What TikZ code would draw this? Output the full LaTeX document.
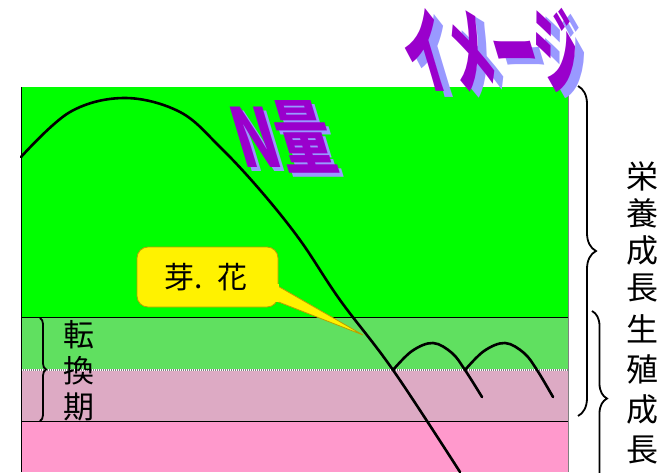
\documentclass[tikz,border=0pt]{standalone}
\usepackage{fontspec}
\newfontfamily\jp{Noto Sans CJK JP}
\usetikzlibrary{decorations.pathreplacing}
\definecolor{vgreen}{HTML}{00FF00}
\definecolor{lgreen}{HTML}{60E060}
\definecolor{mauve}{HTML}{DDAAC4}
\definecolor{pinkb}{HTML}{FF99CC}
\definecolor{wapurple}{HTML}{9A00CC}
\definecolor{washadow}{HTML}{9999FF}
\definecolor{waedge}{HTML}{D9A6FF}
\definecolor{calloutedge}{HTML}{B8A000}
\tikzset{
  curveline/.style={line width=2.6pt, line cap=round, line join=round},
  bracel/.style={decorate, decoration={brace, amplitude=#1}, line width=1.8pt},
  vtext/.style={font=\jp\fontsize{32}{37}\selectfont, align=center, inner sep=0pt},
  wordart/.style={font=\jp\bfseries\fontsize{54}{54}\selectfont, inner sep=0pt, transform shape},
}
\begin{document}
\begin{tikzpicture}[x=1pt,y=-1pt]
\useasboundingbox (0,0) rectangle (669,472);
% bands
\fill[vgreen] (21,87) rectangle (568,317);
\fill[lgreen] (21,317) rectangle (568,370);
\fill[mauve] (21,370) rectangle (568,421);
\fill[pinkb] (21,421) rectangle (568,472);
\draw[line width=0.8pt] (21,317) -- (568,317);
\draw[line width=0.8pt] (21,421) -- (568,421);
\draw[white, line width=1.6pt] (21,370) -- (568,370);
\draw[gray, line width=1.6pt, dash pattern=on 1pt off 1pt] (21,370) -- (568,370);
\draw[line width=0.8pt] (21,87) -- (21,472);
\draw[gray, line width=0.8pt] (568,87) -- (568,472);
% main curve
\draw[curveline] plot[smooth, tension=0.6] coordinates {(21,157) (70,112) (125,98) (180,112) (220,147) (260,190) (300,240) (340,300) (393,370) (460,472)};
% small arcs
\draw[curveline] plot[smooth, tension=0.6] coordinates {(393,370) (412,351) (433,343) (452,353) (465,370) (482,397)};
\draw[curveline] plot[smooth, tension=0.6] coordinates {(465,370) (484,351) (505,343) (524,353) (537,370) (553,397)};
% callout
\draw[calloutedge, fill=yellow, line width=0.8pt, rounded corners=11pt] (137,247) rectangle (278,307);
\draw[calloutedge, fill=yellow, line width=0.8pt, line join=miter] (276,285) -- (363,335) -- (276,301);
\fill[yellow] (270,284) rectangle (279,302);
\node[font=\jp\fontsize{30}{30}\selectfont, inner sep=0pt] (bud) at (206,277) {芽.\hspace{14pt}花};
% left brace and text
\draw[bracel=6pt] (40,318) -- (40,421);
\node[vtext, font=\jp\fontsize{31}{36}\selectfont] (tenkan) at (79,371) {転\\換\\期};
% right braces and texts
\draw[bracel=18pt] (578,86) -- (578,416);
\draw[bracel=15pt] (592,311) -- (592,486);
\node[vtext] (eiyou) at (642,232) {栄\\養\\成\\長};
\node[vtext, font=\jp\fontsize{32}{40}\selectfont] (seishoku) at (642,389) {生\\殖\\成\\長};
% wordart title
\node[wordart, washadow, xslant=-0.3, xscale=0.82, yscale=1.75] (titleshadow) at (501,56) {イメージ};
\node[wordart, wapurple, xslant=-0.3, xscale=0.82, yscale=1.75] (title) at (492,50) {イメージ};
\node[wordart, washadow, font=\jp\bfseries\fontsize{58}{58}\selectfont, xslant=-0.3, xscale=0.95, yscale=1.4] (nshadow) at (287,141) {N量};
\node[wordart, wapurple, font=\jp\bfseries\fontsize{58}{58}\selectfont, xslant=-0.3, xscale=0.95, yscale=1.4] (nryou) at (283,137) {N量};
\end{tikzpicture}
\end{document}
